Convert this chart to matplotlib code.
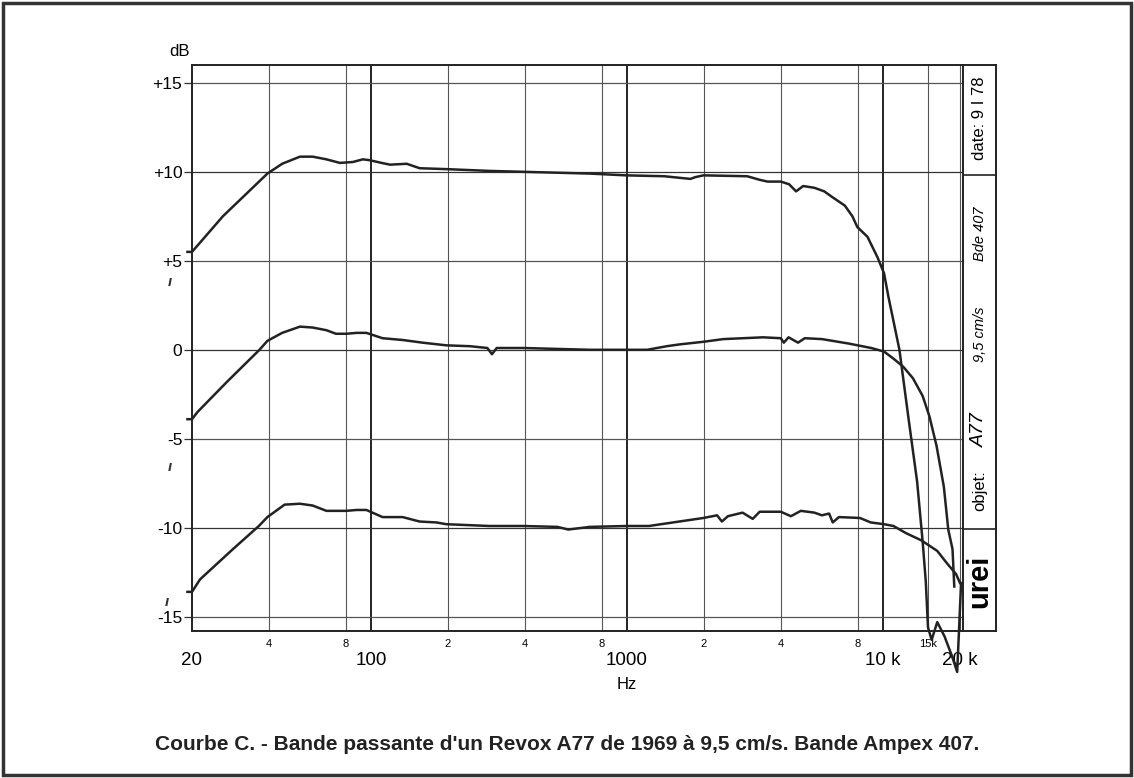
import matplotlib.pyplot as plt
from matplotlib.patches import Rectangle

plt.rcParams['font.family'] = ['Liberation Sans', 'DejaVu Sans']

W, H = 1134, 778

# curve +10 dB (top)
freq_top = [19.2, 20, 26.4, 32.8, 39.4, 45, 52.8, 59.2, 67, 75.6, 85, 93, 99, 110, 118.7,
            138, 155, 197, 290, 392, 715, 992, 1400, 1770, 1850, 1990, 2950, 3300, 3540,
            3990, 4300, 4580, 4880, 5400, 5900, 6310, 7100, 7600, 7940, 8700, 9520, 10100,
            10500, 11000, 11600, 12600, 13600, 14300, 14700, 15000, 15500, 16300, 17400,
            18600, 19500, 20200]
db_top = [5.5, 5.5, 7.5, 8.8, 9.9, 10.45, 10.85, 10.85, 10.7, 10.5, 10.55, 10.7, 10.65, 10.5,
          10.4, 10.45, 10.2, 10.15, 10.05, 10.0, 9.9, 9.8, 9.75, 9.6, 9.7, 9.8, 9.75, 9.55,
          9.45, 9.45, 9.3, 8.9, 9.2, 9.1, 8.9, 8.6, 8.1, 7.5, 6.9, 6.35, 5.2, 4.3, 3.0, 1.6,
          0.0, -3.9, -7.4, -10.8, -13.0, -15.6, -16.3, -15.3, -16.1, -17.2, -18.1, -13.1]

# curve 0 dB (middle)
freq_mid = [19.2, 20, 21, 27.4, 36.7, 39.4, 45, 52.8, 59.2, 67, 73, 80, 88, 96, 111, 133, 159,
            197, 244, 285, 297, 310, 392, 716, 1000, 1200, 1430, 1600, 1990, 2380, 3400, 3990,
            4100, 4280, 4660, 4950, 5780, 7350, 9000, 10100, 11000, 12000, 13100, 14300,
            15200, 16200, 17300, 18000, 18700, 19000]
db_mid = [-3.9, -3.9, -3.5, -1.8, 0.0, 0.5, 0.95, 1.3, 1.25, 1.1, 0.9, 0.9, 0.95, 0.95, 0.65,
          0.55, 0.4, 0.25, 0.2, 0.1, -0.25, 0.1, 0.1, 0.0, 0.0, 0.0, 0.2, 0.3, 0.45, 0.6, 0.7,
          0.65, 0.4, 0.7, 0.4, 0.65, 0.6, 0.35, 0.1, -0.1, -0.5, -0.95, -1.6, -2.6, -3.75,
          -5.4, -7.7, -10.1, -11.2, -13.3]

# curve -10 dB (bottom)
freq_bot = [19.2, 20, 21.5, 28.9, 36.5, 39.4, 46, 52.8, 59.2, 67, 80, 88, 96, 111, 133, 155,
            180, 197, 290, 392, 535, 590, 716, 1000, 1220, 1600, 1990, 2250, 2350, 2480, 2830,
            3100, 3300, 3990, 4370, 4780, 5400, 5780, 6160, 6370, 6730, 8130, 8960, 10100,
            11000, 12300, 14100, 16300, 17800, 19300, 20000]
db_bot = [-13.6, -13.6, -12.9, -11.2, -9.9, -9.4, -8.7, -8.65, -8.75, -9.05, -9.05, -9.0, -9.0,
          -9.4, -9.4, -9.65, -9.7, -9.8, -9.9, -9.9, -9.95, -10.1, -9.95, -9.9, -9.9, -9.65,
          -9.45, -9.3, -9.65, -9.35, -9.15, -9.5, -9.1, -9.1, -9.35, -9.05, -9.15, -9.3, -9.2,
          -9.7, -9.4, -9.45, -9.7, -9.8, -9.9, -10.3, -10.7, -11.3, -12.0, -12.6, -13.1]

major_ticks = [20, 100, 1000, 10000, 20000]
major_labels = ['20', '100', '1000', '10 k', '20 k']
minor_ticks = [40, 80, 200, 400, 800, 2000, 4000, 8000, 15000]
minor_labels = ['4', '8', '2', '4', '8', '2', '4', '8', '15k']
db_ticks = [15, 10, 5, 0, -5, -10, -15]
db_labels = ['+15', '+10', '+5', '0', '-5', '-10', '-15']


def px(x0, y0, x1, y1):
    return [x0 / W, 1 - y1 / H, (x1 - x0) / W, (y1 - y0) / H]


fig = plt.figure(figsize=(W / 100, H / 100), dpi=100)

ax = fig.add_axes(px(192, 65, 963, 631))
ax.set_xscale('log')
ax.set_xlim(20, 20550)
ax.set_ylim(-15.8, 16)

for f in minor_ticks + [20000]:
    ax.axvline(f, color='#555555', lw=0.8, zorder=1)
for f in [100, 1000, 10000]:
    ax.axvline(f, color='#222222', lw=1.4, zorder=1)
for d in db_ticks:
    ax.axhline(d, color='#333333' if d % 10 == 0 else '#555555', lw=0.9, zorder=1)

for fr, db in [(freq_top, db_top), (freq_mid, db_mid), (freq_bot, db_bot)]:
    ax.plot(fr, db, color='#222222', lw=1.8, clip_on=False, zorder=3,
            solid_joinstyle='round')

ax.set_xticks(major_ticks, major_labels, fontsize=13.5)
ax.set_xticks(minor_ticks, minor_labels, minor=True, fontsize=8)
ax.tick_params(axis='x', which='major', length=0, pad=15)
ax.tick_params(axis='x', which='minor', length=0, pad=6)
ax.get_xticklabels()[0].set_x(19)
ax.set_yticks(db_ticks, db_labels, fontsize=12.5)
ax.tick_params(axis='y', length=6, width=0.9, pad=1, color='#333333')
for s in ['left', 'top', 'bottom']:
    ax.spines[s].set_linewidth(1.4)
    ax.spines[s].set_color('#222222')
ax.spines['right'].set_visible(False)

ax.text(1000, -0.095, 'Hz', transform=ax.get_xaxis_transform(),
        ha='center', va='center', fontsize=12)

# side strip of the chart paper
sx = fig.add_axes(px(963, 65, 996, 631))
sx.set_xlim(0, 1)
sx.set_ylim(-15.8, 16)
sx.set_xticks([])
sx.set_yticks([])
for s in sx.spines.values():
    s.set_linewidth(1.4)
    s.set_color('#222222')
sx.axhline(9.8, color='#222222', lw=1.2)
sx.axhline(-10.05, color='#222222', lw=1.2)
sx.text(0.5, 13.0, 'date: 9 I 78', rotation=90, ha='center', va='center', fontsize=12)
sx.text(0.5, 6.5, 'Bde 407', rotation=90, ha='center', va='center', fontsize=10.5,
        fontstyle='italic')
sx.text(0.5, 0.85, '9,5 cm/s', rotation=90, ha='center', va='center', fontsize=10.5,
        fontstyle='italic')
sx.text(0.5, -4.5, 'A77', rotation=90, ha='center', va='center', fontsize=14,
        fontstyle='italic')
sx.text(0.5, -7.9, 'objet:', rotation=90, ha='center', va='center', fontsize=12)
sx.text(0.5, -13.0, 'urei', rotation=90, ha='center', va='center', fontsize=21,
        fontweight='bold')

fig.text(190 / W, 1 - 52 / H, 'dB', ha='right', va='center', fontsize=12)

# pen marks in the margin
for mx, my in [(170, 282), (170, 467), (167, 602)]:
    fig.text(mx / W, 1 - my / H, 'ı', ha='center', va='center', fontsize=11,
             fontstyle='italic', fontweight='bold', color='#333333')

fig.text(567 / W, 1 - 745 / H,
         "Courbe C. - Bande passante d'un Revox A77 de 1969 à 9,5 cm/s. Bande Ampex 407.",
         ha='center', va='center', fontsize=15, fontweight='bold', color='#222222')

fig.add_artist(Rectangle((0.003, 0.004), 0.994, 0.992, transform=fig.transFigure,
                         fill=False, lw=2.5, edgecolor='#333333'))

fig.savefig('out.png', dpi=100)
